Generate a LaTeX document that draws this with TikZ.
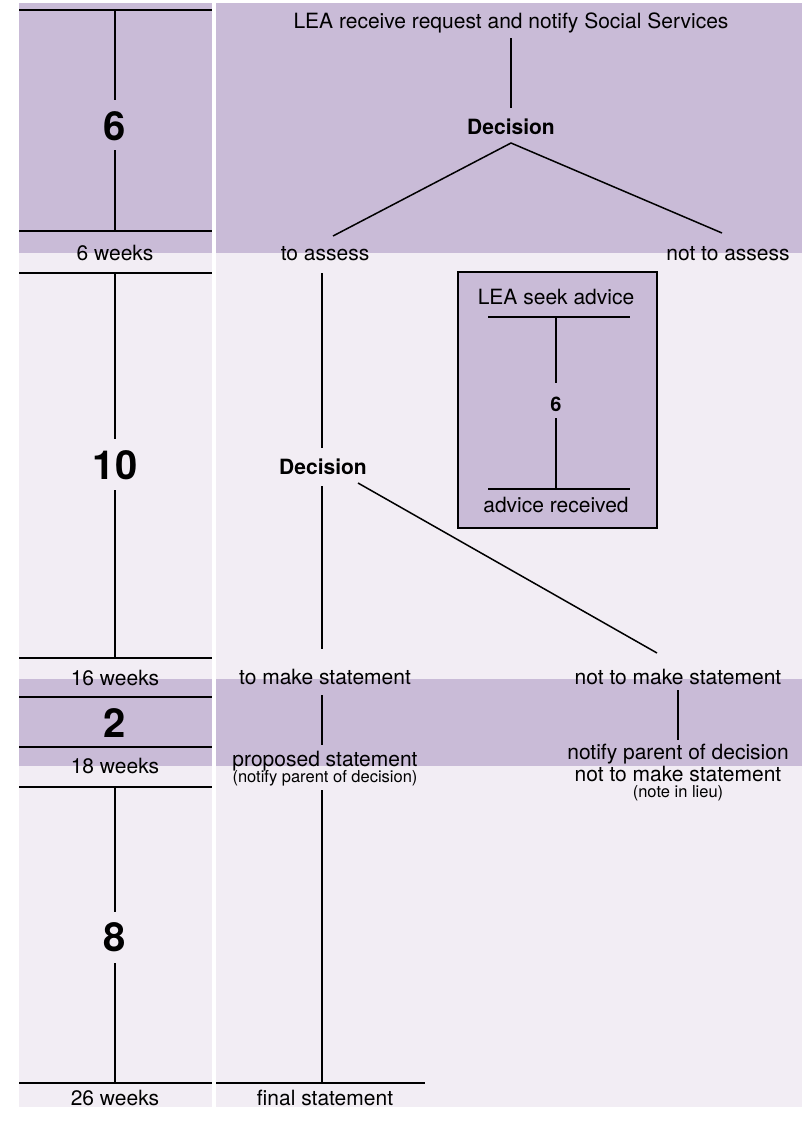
\documentclass[tikz,border=0pt]{standalone}
\usepackage{fontspec}
\setmainfont{TeX Gyre Heros}
\definecolor{band}{RGB}{201,187,215}
\definecolor{pale}{RGB}{242,237,244}
\tikzset{
  txt/.style={anchor=base, inner sep=0pt, font=\fontsize{21}{25}\selectfont},
  smalltxt/.style={anchor=base, inner sep=0pt, font=\fontsize{16.5}{19}\selectfont},
  boldtxt/.style={anchor=base, inner sep=0pt, font=\fontsize{21}{25}\selectfont\bfseries},
  bignum/.style={anchor=center, inner sep=0pt, font=\fontsize{40}{48}\selectfont\bfseries},
  midnum/.style={anchor=center, inner sep=0pt, font=\fontsize{20}{24}\selectfont\bfseries},
  rule/.style={line width=1.5pt, black},
}
\begin{document}
\begin{tikzpicture}[x=1pt,y=-1pt]
\useasboundingbox (0,0) rectangle (802,1122);
\fill[white] (0,0) rectangle (802,1122);
% backgrounds
\fill[pale] (19,253) rectangle (212,1107);
\fill[pale] (216,253) rectangle (802,1107);
\fill[band] (19,3) rectangle (212,253);
\fill[band] (216,3) rectangle (802,253);
\fill[band] (19,679) rectangle (212,766);
\fill[band] (216,679) rectangle (802,766);

% ---------- left timeline ----------
\foreach \n/\y in {a/10,b/231,c/273,d/658,e/697,f/747,g/787,h/1083}{
  \coordinate (L\n) at (19,\y);
  \coordinate (R\n) at (212,\y);
  \coordinate (M\n) at (115,\y);
  \draw[rule] (L\n) -- (R\n);
}
\node[bignum] (n6) at (115,126) {6};
\node[bignum] (n10) at (115,465) {10};
\node[bignum] (n2) at (115,723) {2};
\node[bignum] (n8) at (115,937) {8};
\coordinate (n6t) at (115,100);  \coordinate (n6b) at (115,150);
\coordinate (n10t) at (115,439); \coordinate (n10b) at (115,490);
\coordinate (n8t) at (115,912);  \coordinate (n8b) at (115,963);
\draw[rule] (Ma) -- (n6t);  \draw[rule] (n6b) -- (Mb);
\draw[rule] (Mc) -- (n10t); \draw[rule] (n10b) -- (Md);
\draw[rule] (Mg) -- (n8t);  \draw[rule] (n8b) -- (Mh);
\node[txt] (w6) at (115,260) {6 weeks};
\node[txt] (w16) at (115,685) {16 weeks};
\node[txt] (w18) at (115,773) {18 weeks};
\node[txt] (w26) at (115,1105) {26 weeks};

% ---------- right column ----------
\node[txt] (lea) at (511,28) {LEA receive request and notify Social Services};
\node[boldtxt] (dec1) at (511,134) {Decision};
\coordinate (lea-s) at (511,38);
\coordinate (dec1-n) at (511,108);
\coordinate (dec1-s) at (511,143);
\coordinate (assess-n) at (333,236);
\coordinate (nassess-n) at (722,233);
\draw[rule] (lea-s) -- (dec1-n);
\draw[rule] (assess-n) -- (dec1-s) -- (nassess-n);
\node[txt] (assess) at (325,260) {to assess};
\node[txt] (notassess) at (728,260) {not to assess};

\node[boldtxt] (dec2) at (323,474) {Decision};
\coordinate (assess-s) at (322,273);
\coordinate (dec2-n) at (322,448);
\coordinate (dec2-s) at (322,486);
\coordinate (dec2-se) at (358,483);
\coordinate (make-n) at (322,649);
\coordinate (nmake-n) at (657,653);
\draw[rule] (assess-s) -- (dec2-n);
\draw[rule] (dec2-s) -- (make-n);
\draw[rule] (dec2-se) -- (nmake-n);

\node[txt] (make) at (325,684) {to make statement};
\node[txt] (notmake) at (678,684) {not to make statement};
\coordinate (make-s) at (322,695);
\coordinate (prop-n) at (322,745);
\coordinate (nmake-s) at (678,690);
\coordinate (notify2-n) at (678,740);
\draw[rule] (make-s) -- (prop-n);
\draw[rule] (nmake-s) -- (notify2-n);

\node[txt] (prop) at (325,766) {proposed statement};
\node[smalltxt] (notify1) at (325,782) {(notify parent of decision)};
\coordinate (prop-s) at (322,790);
\coordinate (final-n) at (322,1083);
\coordinate (finalL) at (216,1083);
\coordinate (finalR) at (425,1083);
\draw[rule] (prop-s) -- (final-n);
\draw[rule] (finalL) -- (finalR);
\node[txt] (final) at (325,1105) {final statement};

\node[txt] (notify2) at (678,759) {notify parent of decision};
\node[txt] (notmake2) at (678,781) {not to make statement};
\node[smalltxt] (lieu) at (678,797) {(note in lieu)};

% ---------- advice box ----------
\draw[rule, fill=band] (458,272) rectangle (657,528);
\node[txt] (seek) at (556,304) {LEA seek advice};
\node[midnum] (b6) at (556,404) {6};
\node[txt] (received) at (556,512) {advice received};
\coordinate (bt1) at (488,317); \coordinate (bt2) at (630,317);
\coordinate (bb1) at (488,489); \coordinate (bb2) at (630,489);
\coordinate (btm) at (556,317); \coordinate (bbm) at (556,489);
\coordinate (b6t) at (556,383); \coordinate (b6b) at (556,418);
\draw[rule] (bt1) -- (bt2);
\draw[rule] (bb1) -- (bb2);
\draw[rule] (btm) -- (b6t);
\draw[rule] (b6b) -- (bbm);
\end{tikzpicture}
\end{document}
